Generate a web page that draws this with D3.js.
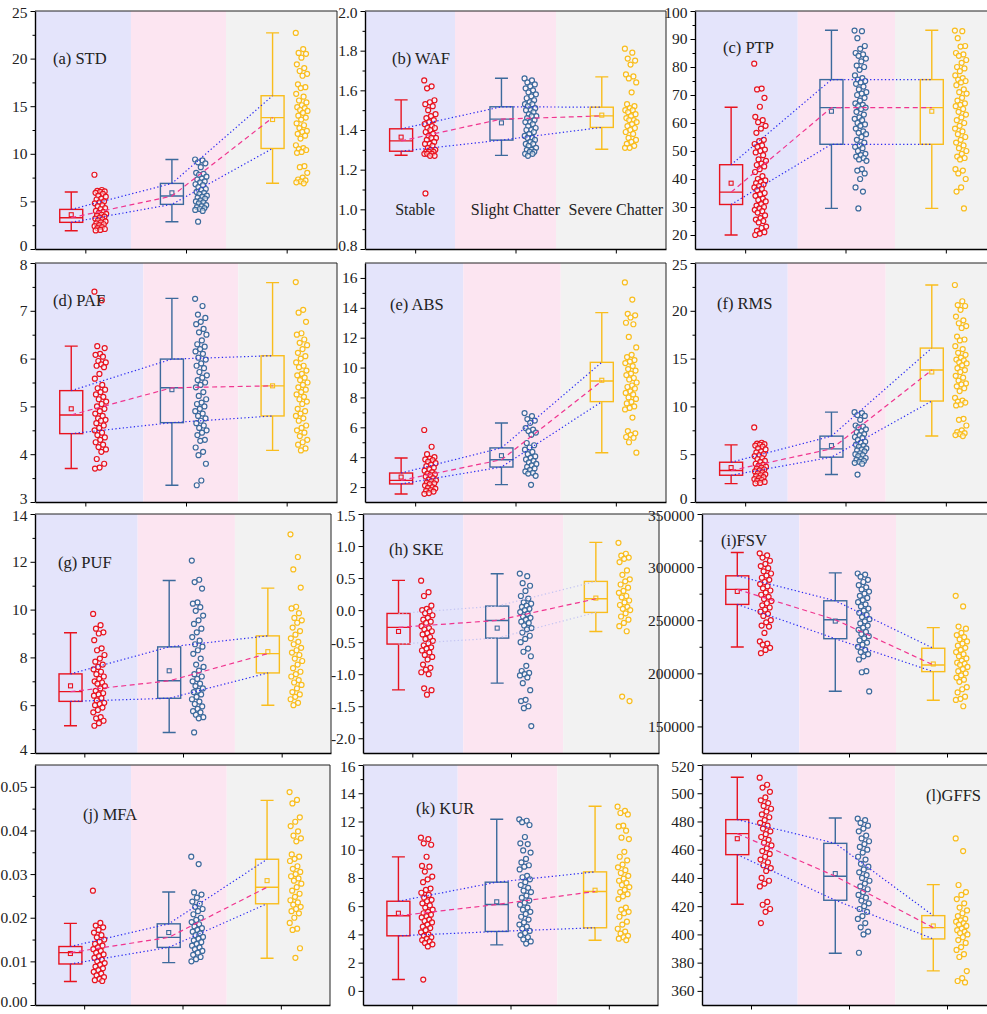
<!DOCTYPE html>
<html>
<head>
<meta charset="utf-8">
<script src="https://cdn.jsdelivr.net/npm/d3@7"></script>
<style>
body { margin: 0; background: #fff; }
svg { display: block; font-family: "Liberation Serif", "Times New Roman", serif; }
svg text { font-family: "Liberation Serif", "Times New Roman", serif !important; }
</style>
</head>
<body>
<svg id="chart" width="987" height="1014"></svg>
<script>
// ---- data ----
var categories = ["Stable", "Slight Chatter", "Severe Chatter"];
// box stats for each group: [lower whisker, q1, median, q3, upper whisker, mean]

// (a) STD
var stdBoxes = [[1.92, 2.8, 3.29, 4.16, 5.98, 3.6], [2.87, 4.69, 5.56, 6.89, 9.4, 5.9], [6.9, 10.56, 13.8, 16.1, 22.7, 13.6]];
var stdStable = [7.8, 6.2, 6.1, 6.05, 6.0, 5.9, 5.8, 5.6, 5.5, 5.3, 5.2, 5.0, 4.9, 4.8, 4.6, 4.5, 4.3, 4.2, 4.0, 3.9, 3.8, 3.7, 3.6, 3.5, 3.4, 3.3, 3.2, 3.1, 3.0, 2.9, 2.8, 2.7, 2.6, 2.5, 2.4, 2.3, 2.2, 2.1, 2.0, 1.95];
var stdSlight = [9.4, 9.3, 9.1, 9.0, 8.6, 8.0, 7.9, 7.8, 7.6, 7.4, 7.3, 7.1, 7.0, 6.8, 6.7, 6.5, 6.3, 6.2, 6.0, 5.9, 5.8, 5.6, 5.5, 5.4, 5.3, 5.1, 5.0, 4.9, 4.8, 4.6, 4.5, 4.4, 4.3, 4.2, 4.1, 4.0, 2.87];
var stdSevere = [22.7, 21.0, 20.6, 20.5, 20.1, 19.4, 19.0, 18.7, 18.4, 18.2, 17.3, 17.0, 16.9, 16.3, 16.0, 15.6, 15.4, 15.1, 14.9, 14.8, 14.6, 14.5, 14.3, 14.0, 13.8, 13.6, 13.2, 13.0, 12.7, 12.4, 12.3, 12.1, 11.9, 11.6, 10.9, 10.6, 10.5, 10.4, 10.2, 10.1, 8.7, 8.6, 8.0, 7.5, 7.3, 7.2, 7.1, 7.0, 6.9];
var stdTicks = [0, 5, 10, 15, 20, 25];

// (b) WAF
var wafBoxes = [[1.273, 1.293, 1.345, 1.406, 1.552, 1.364], [1.272, 1.349, 1.455, 1.517, 1.661, 1.436], [1.303, 1.413, 1.471, 1.515, 1.668, 1.475]];
var wafStable = [1.65, 1.62, 1.61, 1.55, 1.54, 1.53, 1.52, 1.50, 1.48, 1.47, 1.46, 1.45, 1.44, 1.43, 1.42, 1.41, 1.41, 1.40, 1.39, 1.38, 1.37, 1.36, 1.36, 1.35, 1.34, 1.33, 1.33, 1.32, 1.31, 1.30, 1.30, 1.29, 1.29, 1.29, 1.28, 1.28, 1.28, 1.27, 1.27, 1.08];
var wafSlight = [1.66, 1.65, 1.64, 1.63, 1.62, 1.61, 1.60, 1.59, 1.58, 1.57, 1.56, 1.55, 1.54, 1.53, 1.53, 1.52, 1.51, 1.50, 1.50, 1.49, 1.48, 1.47, 1.47, 1.46, 1.45, 1.44, 1.44, 1.43, 1.42, 1.41, 1.40, 1.40, 1.39, 1.38, 1.37, 1.36, 1.36, 1.35, 1.34, 1.33, 1.33, 1.32, 1.31, 1.30, 1.30, 1.29, 1.29, 1.28, 1.28, 1.27];
var wafSevere = [1.81, 1.79, 1.76, 1.75, 1.73, 1.68, 1.67, 1.66, 1.64, 1.59, 1.53, 1.52, 1.51, 1.50, 1.50, 1.49, 1.48, 1.47, 1.46, 1.45, 1.45, 1.44, 1.43, 1.42, 1.41, 1.40, 1.39, 1.38, 1.36, 1.35, 1.34, 1.33, 1.32, 1.31, 1.31];
var wafTicks = [0.8, 1.0, 1.2, 1.4, 1.6, 1.8, 2.0];

// (c) PTP
var ptpBoxes = [[20.0, 30.9, 35.3, 45.1, 65.6, 38.5], [29.5, 52.4, 65.5, 75.5, 93.1, 64.2], [29.5, 52.4, 65.5, 75.5, 93.1, 64.2]];
var ptpStable = [81.2, 72.3, 72.0, 69.0, 65.8, 62.2, 61.0, 60.3, 59.0, 58.0, 56.5, 54.0, 53.5, 52.5, 52.0, 51.5, 50.5, 50.0, 49.5, 48.5, 47.0, 46.5, 45.5, 45.0, 44.5, 43.5, 42.5, 41.0, 40.0, 39.5, 39.0, 38.5, 38.0, 37.5, 37.0, 36.5, 36.0, 35.0, 34.5, 34.0, 33.0, 32.5, 32.0, 31.0, 30.5, 30.0, 29.5, 29.0, 28.5, 28.0, 27.0, 26.0, 25.5, 25.0, 24.5, 23.0, 22.5, 21.5, 21.0, 20.5, 20.0];
var ptpSlight = [93.0, 92.8, 90.3, 87.5, 86.5, 85.0, 84.5, 84.0, 83.0, 82.0, 80.5, 80.0, 79.0, 77.0, 76.0, 75.5, 75.0, 74.5, 74.0, 73.0, 72.0, 71.0, 70.5, 70.0, 69.0, 68.0, 67.0, 66.5, 66.0, 65.5, 65.0, 64.0, 63.0, 62.0, 61.5, 61.0, 60.0, 59.5, 59.0, 58.0, 57.0, 56.5, 56.0, 55.0, 54.0, 53.0, 52.0, 51.5, 51.0, 50.0, 49.0, 48.5, 48.0, 47.5, 47.0, 46.5, 43.5, 43.0, 42.0, 40.0, 37.0, 35.5, 29.5];
var ptpSevere = [93.0, 92.8, 90.3, 87.5, 87.3, 85.0, 84.5, 84.0, 82.5, 81.5, 80.0, 79.5, 78.5, 77.0, 76.0, 75.5, 75.0, 74.5, 73.5, 72.0, 71.0, 70.5, 69.0, 68.0, 67.0, 66.5, 66.0, 65.0, 64.0, 63.0, 62.0, 61.0, 60.0, 59.0, 58.0, 57.0, 56.0, 55.0, 54.0, 53.0, 52.0, 51.0, 50.0, 49.0, 48.0, 47.5, 47.0, 43.5, 43.0, 42.0, 40.0, 37.0, 35.5, 29.5];
var ptpTicks = [20, 30, 40, 50, 60, 70, 80, 90, 100];

// (d) PAF
var pafBoxes = [[3.70, 4.43, 4.82, 5.33, 6.26, 4.95], [3.35, 4.66, 5.39, 5.99, 7.26, 5.35], [4.08, 4.80, 5.43, 6.06, 7.59, 5.43]];
var pafStable = [7.40, 7.22, 6.26, 6.22, 6.10, 6.08, 6.04, 5.95, 5.92, 5.88, 5.85, 5.82, 5.68, 5.58, 5.45, 5.38, 5.35, 5.30, 5.25, 5.20, 5.15, 5.10, 5.05, 5.00, 4.95, 4.90, 4.85, 4.80, 4.75, 4.72, 4.70, 4.65, 4.60, 4.55, 4.50, 4.45, 4.40, 4.35, 4.30, 4.25, 4.20, 4.15, 4.10, 4.05, 3.90, 3.80, 3.72, 3.70];
var pafSlight = [7.25, 7.10, 6.92, 6.85, 6.77, 6.72, 6.62, 6.55, 6.50, 6.38, 6.30, 6.25, 6.20, 6.15, 6.10, 6.02, 5.98, 5.90, 5.85, 5.80, 5.72, 5.65, 5.60, 5.55, 5.50, 5.45, 5.40, 5.30, 5.22, 5.15, 5.08, 5.05, 5.00, 4.95, 4.90, 4.85, 4.80, 4.75, 4.70, 4.65, 4.60, 4.55, 4.50, 4.45, 4.40, 4.30, 4.28, 4.14, 4.05, 3.98, 3.80, 3.45, 3.35];
var pafSevere = [7.60, 7.02, 6.96, 6.77, 6.53, 6.50, 6.40, 6.33, 6.28, 6.20, 6.12, 6.05, 6.00, 5.92, 5.85, 5.82, 5.75, 5.68, 5.65, 5.60, 5.55, 5.50, 5.45, 5.40, 5.35, 5.30, 5.25, 5.20, 5.15, 5.10, 5.05, 4.95, 4.90, 4.85, 4.80, 4.75, 4.70, 4.60, 4.55, 4.50, 4.45, 4.38, 4.30, 4.25, 4.20, 4.12, 4.08];
var pafTicks = [3, 4, 5, 6, 7, 8];

// (e) ABS
var absBoxes = [[1.54, 2.21, 2.45, 2.94, 3.95, 2.67], [2.16, 3.34, 3.83, 4.62, 6.29, 4.10], [4.30, 7.72, 9.10, 10.35, 13.68, 9.15]];
var absStable = [5.82, 4.70, 4.2, 4.0, 3.9, 3.85, 3.8, 3.7, 3.6, 3.5, 3.4, 3.3, 3.2, 3.1, 3.0, 2.9, 2.85, 2.8, 2.7, 2.6, 2.5, 2.45, 2.4, 2.3, 2.25, 2.2, 2.1, 2.0, 1.95, 1.9, 1.8, 1.75, 1.7, 1.6, 1.55];
var absSlight = [6.95, 6.75, 6.55, 6.45, 6.30, 5.95, 5.85, 5.75, 5.65, 5.50, 4.95, 4.80, 4.65, 4.50, 4.35, 4.20, 4.05, 3.95, 3.85, 3.75, 3.65, 3.55, 3.45, 3.35, 3.25, 3.15, 3.05, 2.95, 2.90, 2.75, 2.15];
var absSevere = [15.7, 14.55, 13.6, 13.5, 13.35, 13.0, 12.9, 12.05, 11.35, 10.85, 10.7, 10.5, 10.4, 10.3, 10.1, 9.9, 9.8, 9.6, 9.5, 9.3, 9.2, 9.0, 8.8, 8.7, 8.6, 8.4, 8.3, 8.2, 8.0, 7.9, 7.7, 7.6, 7.4, 7.3, 7.2, 6.65, 5.75, 5.6, 5.5, 5.35, 5.3, 5.0, 4.3];
var absTicks = [2, 4, 6, 8, 10, 12, 14, 16];

// (f) RMS - same values as STD in the source figure
var rmsBoxes = stdBoxes;
var rmsStable = stdStable;
var rmsSlight = stdSlight;
var rmsSevere = stdSevere;
var rmsTicks = [0, 5, 10, 15, 20, 25];

// (g) PUF
var pufBoxes = [[5.14, 6.16, 6.57, 7.31, 9.03, 6.81], [4.86, 6.29, 7.02, 8.44, 11.22, 7.44], [6.00, 7.35, 8.16, 8.90, 10.90, 8.24]];
var pufStable = [9.82, 9.35, 9.2, 9.05, 9.0, 8.72, 8.38, 8.3, 8.1, 7.95, 7.82, 7.7, 7.6, 7.5, 7.4, 7.3, 7.2, 7.1, 7.0, 6.95, 6.9, 6.8, 6.7, 6.6, 6.5, 6.45, 6.4, 6.3, 6.2, 6.1, 6.05, 6.0, 5.9, 5.8, 5.7, 5.5, 5.45, 5.35, 5.25, 5.14];
var pufSlight = [12.05, 11.25, 11.15, 10.88, 10.3, 10.25, 10.1, 9.95, 9.75, 9.55, 9.4, 9.2, 9.05, 8.85, 8.7, 8.55, 8.45, 8.3, 8.15, 7.95, 7.7, 7.6, 7.45, 7.3, 7.2, 7.1, 7.0, 6.9, 6.8, 6.7, 6.6, 6.55, 6.45, 6.35, 6.25, 6.15, 6.05, 5.95, 5.85, 5.75, 5.7, 5.6, 5.5, 5.45, 4.86];
var pufSevere = [13.15, 12.2, 11.68, 10.92, 10.12, 10.05, 9.85, 9.65, 9.55, 9.45, 9.25, 9.1, 8.95, 8.8, 8.65, 8.55, 8.4, 8.3, 8.2, 8.1, 7.95, 7.85, 7.7, 7.55, 7.4, 7.3, 7.2, 7.05, 6.95, 6.85, 6.7, 6.55, 6.45, 6.35, 6.25, 6.1, 6.0];
var pufTicks = [4, 6, 8, 10, 12, 14];

// (h) SKE
var skeBoxes = [[-1.245, -0.53, -0.27, -0.052, 0.464, -0.333], [-1.14, -0.437, -0.161, 0.063, 0.568, -0.281], [-0.333, -0.036, 0.177, 0.448, 1.057, 0.188]];
var skeStable = [0.46, 0.28, 0.22, 0.07, 0.02, 0.0, -0.02, -0.05, -0.08, -0.12, -0.15, -0.18, -0.2, -0.25, -0.28, -0.3, -0.33, -0.36, -0.38, -0.42, -0.45, -0.48, -0.52, -0.55, -0.58, -0.6, -0.63, -0.66, -0.7, -0.73, -0.77, -0.85, -0.9, -0.93, -0.97, -1.0, -1.22, -1.25, -1.32];
var skeSlight = [0.57, 0.53, 0.42, 0.38, 0.3, 0.22, 0.18, 0.12, 0.1, 0.07, 0.05, 0.02, 0.0, -0.03, -0.06, -0.1, -0.12, -0.15, -0.18, -0.2, -0.24, -0.28, -0.3, -0.35, -0.4, -0.45, -0.5, -0.6, -0.65, -0.72, -0.87, -0.95, -0.98, -1.0, -1.02, -1.05, -1.14, -1.25, -1.4, -1.42, -1.5, -1.53, -1.81];
var skeSevere = [1.05, 0.88, 0.85, 0.82, 0.8, 0.75, 0.62, 0.55, 0.48, 0.45, 0.4, 0.35, 0.3, 0.27, 0.22, 0.2, 0.15, 0.12, 0.08, 0.05, 0.02, 0.0, -0.05, -0.1, -0.15, -0.2, -0.25, -0.33, -1.35, -1.42];
var skeTicks = [-2.0, -1.5, -1.0, -0.5, 0.0, 0.5, 1.0, 1.5];

// (i) FSV
var fsvBoxes = [[224800, 264900, 279000, 291800, 313700, 277100], [183200, 232600, 250500, 268300, 294600, 249200], [174700, 201600, 207900, 223600, 243000, 208800]];
var fsvStable = [313000, 311000, 309000, 306000, 303000, 301000, 299000, 296000, 294000, 292000, 290000, 288000, 286000, 284000, 282000, 280000, 278000, 276000, 274000, 272000, 270000, 268000, 266000, 264000, 262000, 260000, 258000, 256000, 254000, 250000, 248000, 245000, 244000, 238000, 230000, 228000, 227000, 224000, 222000, 219000];
var fsvSlight = [294000, 293000, 291000, 288000, 286000, 283000, 281000, 279000, 277000, 275000, 273000, 271000, 269000, 267000, 265000, 263000, 261000, 259000, 257000, 255000, 253000, 251000, 249000, 247000, 245000, 243000, 241000, 239000, 237000, 235000, 233000, 231000, 229000, 227000, 225000, 222000, 220000, 218000, 216000, 213000, 202000, 201000, 183000];
var fsvSevere = [273000, 263000, 244000, 242000, 238000, 236000, 234000, 232000, 230000, 228000, 226000, 224000, 222000, 220000, 218000, 216000, 214000, 212000, 210000, 209000, 208000, 206000, 204000, 202000, 200000, 198000, 196000, 194000, 192000, 187000, 185000, 182000, 178000, 176000, 175000, 169000];
var fsvTicks = [150000, 200000, 250000, 300000, 350000];

// (j) MFA
var mfaBoxes = [[0.0054, 0.0094, 0.0120, 0.0134, 0.0187, 0.0118], [0.0097, 0.0132, 0.0155, 0.0186, 0.0259, 0.0166], [0.0107, 0.0232, 0.0270, 0.0334, 0.0469, 0.0285]];
var mfaStable = [0.0262, 0.0188, 0.0182, 0.0178, 0.0172, 0.0166, 0.016, 0.0155, 0.0150, 0.0145, 0.0140, 0.0136, 0.0132, 0.0128, 0.0124, 0.0120, 0.0116, 0.0112, 0.0108, 0.0104, 0.0100, 0.0096, 0.0092, 0.0088, 0.0084, 0.0080, 0.0076, 0.0072, 0.0068, 0.0064, 0.0060, 0.0057, 0.0055];
var mfaSlight = [0.0340, 0.0323, 0.0258, 0.0253, 0.0246, 0.0237, 0.0232, 0.0225, 0.0220, 0.0215, 0.0208, 0.0200, 0.0195, 0.0190, 0.0185, 0.0180, 0.0176, 0.0172, 0.0168, 0.0164, 0.0160, 0.0156, 0.0152, 0.0148, 0.0144, 0.0140, 0.0136, 0.0132, 0.0128, 0.0124, 0.0120, 0.0115, 0.0110, 0.0105, 0.0100];
var mfaSevere = [0.0488, 0.0470, 0.0462, 0.0430, 0.0420, 0.0410, 0.0398, 0.0388, 0.0382, 0.0375, 0.0345, 0.0340, 0.0335, 0.0330, 0.0318, 0.0312, 0.0305, 0.0300, 0.0295, 0.0290, 0.0285, 0.0278, 0.0270, 0.0262, 0.0255, 0.0248, 0.0240, 0.0235, 0.0230, 0.0225, 0.0220, 0.0215, 0.0210, 0.0200, 0.0188, 0.0175, 0.0172, 0.0130, 0.0108];
var mfaTicks = [0.00, 0.01, 0.02, 0.03, 0.04, 0.05];

// (k) KUR
var kurBoxes = [[0.81, 3.90, 5.32, 6.35, 9.49, 5.50], [3.26, 4.21, 6.12, 7.70, 12.16, 6.31], [3.59, 4.47, 7.04, 8.43, 13.08, 7.13]];
var kurStable = [10.85, 10.75, 10.45, 10.35, 9.5, 8.85, 8.8, 8.45, 8.1, 7.9, 7.7, 7.25, 7.15, 6.95, 6.8, 6.6, 6.45, 6.35, 6.2, 6.05, 5.9, 5.75, 5.6, 5.5, 5.4, 5.3, 5.2, 5.05, 4.95, 4.85, 4.7, 4.55, 4.45, 4.3, 4.15, 4.0, 3.9, 3.8, 3.7, 3.6, 3.5, 3.4, 3.3, 3.15, 0.8];
var kurSlight = [12.15, 12.05, 11.95, 11.75, 10.9, 10.45, 10.4, 9.95, 9.8, 9.35, 9.1, 8.9, 8.8, 8.6, 8.15, 8.05, 7.9, 7.7, 7.5, 7.3, 7.1, 7.0, 6.75, 6.6, 6.4, 6.25, 6.1, 5.9, 5.75, 5.6, 5.45, 5.25, 5.05, 4.85, 4.7, 4.55, 4.4, 4.25, 4.1, 3.95, 3.8, 3.65, 3.5, 3.35];
var kurSevere = [13.05, 12.75, 12.6, 12.5, 11.7, 11.65, 11.35, 10.85, 10.75, 9.85, 9.5, 9.25, 8.95, 8.75, 8.55, 8.35, 8.15, 7.95, 7.8, 7.65, 7.5, 7.35, 7.15, 7.0, 6.85, 6.7, 6.5, 5.9, 5.75, 5.6, 5.5, 5.25, 4.9, 4.7, 4.4, 4.2, 4.05, 3.9, 3.8, 3.7, 3.6];
var kurTicks = [0, 2, 4, 6, 8, 10, 12, 14, 16];

// (l) GFFS
var gffsBoxes = [[421.4, 456.5, 471.4, 481.3, 511.3, 467.8], [386.7, 424.2, 441.2, 464.5, 482.5, 443.1], [374.2, 396.8, 404.8, 413.3, 435.3, 406.0]];
var gffsStable = [511, 506, 504, 501, 497, 495, 493, 491, 489, 487, 485, 483, 481, 479, 477, 475, 473, 471, 469, 467, 465, 463, 461, 459, 457, 455, 453, 451, 449, 447, 445, 440, 438, 436, 434, 423, 421, 418, 416, 408];
var gffsSlight = [482, 481, 479, 477, 475, 473, 470, 468, 466, 464, 462, 460, 458, 455, 453, 450, 448, 446, 444, 442, 440, 438, 436, 434, 432, 430, 428, 426, 424, 422, 420, 418, 416, 413, 411, 408, 405, 402, 400, 387];
var gffsSevere = [468, 459, 435, 430, 428, 425, 422, 419, 417, 415, 413, 411, 410, 409, 408, 407, 406, 404, 403, 402, 401, 400, 398, 396, 394, 391, 389, 386, 384, 374, 369, 367, 366];
var gffsTicks = [360, 380, 400, 420, 440, 460, 480, 500, 520];

// ---- panel layout ----
// frame: [left, top, right, bottom] in px; split: band edges on the category axis; label: [dx, dy]
var panels = [
  {name: "(a) STD", boxes: stdBoxes, pts: [stdStable, stdSlight, stdSevere], ticks: stdTicks, dom: [0, 25], fmt: "d",
   frame: [35, 11, 337, 249], split: [1.453, 2.397], label: [18, 47]},
  {name: "(b) WAF", boxes: wafBoxes, pts: [wafStable, wafSlight, wafSevere], ticks: wafTicks, dom: [0.8, 2.0], fmt: ".1f",
   frame: [365, 11, 666, 249], split: [1.397, 2.404], label: [27, 47], cats: true},
  {name: "(c) PTP", boxes: ptpBoxes, pts: [ptpStable, ptpSlight, ptpSevere], ticks: ptpTicks, dom: [15, 100], fmt: "d",
   frame: [695, 11, 996, 249], split: [1.524, 2.494], label: [28, 36]},
  {name: "(d) PAF", boxes: pafBoxes, pts: [pafStable, pafSlight, pafSevere], ticks: pafTicks, dom: [3, 8], fmt: "d",
   frame: [35, 263, 337, 502], split: [1.576, 2.519], label: [18, 37]},
  {name: "(e) ABS", boxes: absBoxes, pts: [absStable, absSlight, absSevere], ticks: absTicks, dom: [1, 17], fmt: "d",
   frame: [365, 263, 666, 502], split: [1.480, 2.451], label: [25, 41]},
  {name: "(f) RMS", boxes: rmsBoxes, pts: [rmsStable, rmsSlight, rmsSevere], ticks: rmsTicks, dom: [0, 25], fmt: "d",
   frame: [695, 263, 996, 502], split: [1.424, 2.401], label: [22, 40]},
  {name: "(g) PUF", boxes: pufBoxes, pts: [pufStable, pufSlight, pufSevere], ticks: pufTicks, dom: [4, 14], fmt: "d",
   frame: [35, 514, 331, 753], split: [1.540, 2.526], label: [23, 48]},
  {name: "(h) SKE", boxes: skeBoxes, pts: [skeStable, skeSlight, skeSevere], ticks: skeTicks, dom: [-2.23, 1.5], fmt: ".1f",
   frame: [363, 514, 659, 753], split: [1.516, 2.529], label: [26, 35], faint: true},
  {name: "(i)FSV", boxes: fsvBoxes, pts: [fsvStable, fsvSlight, fsvSevere], ticks: fsvTicks, dom: [125000, 350000], fmt: "d",
   frame: [702, 514, 996, 753], split: [1.493, 2.480], label: [19, 26]},
  {name: "(j) MFA", boxes: mfaBoxes, pts: [mfaStable, mfaSlight, mfaSevere], ticks: mfaTicks, dom: [0, 0.055], fmt: ".2f",
   frame: [35, 765, 330, 1005], split: [1.477, 2.450], label: [48, 49]},
  {name: "(k) KUR", boxes: kurBoxes, pts: [kurStable, kurSlight, kurSevere], ticks: kurTicks, dom: [-1, 16], fmt: "d",
   frame: [363, 765, 658, 1005], split: [1.463, 2.477], label: [53, 43]},
  {name: "(l)GFFS", boxes: gffsBoxes, pts: [gffsStable, gffsSlight, gffsSevere], ticks: gffsTicks, dom: [350, 520], fmt: "d",
   frame: [702, 765, 996, 1005], split: [1.476, 2.472], label: [224, 30]}
];

var boxColors = ["#e8131f", "#3c6a9c", "#f9bd1d"];
var bandColors = ["#e4e4fb", "#fce5f1", "#f2f2f2"];
var serif = "'Liberation Serif', 'Times New Roman', serif";

var svg = d3.select("#chart");

function drawPanel(p) {
  var f = p.frame;
  var x = d3.scaleLinear().domain([0.5, 3.5]).range([f[0], f[2]]);
  var y = d3.scaleLinear().domain(p.dom).range([f[3], f[1]]);
  var g = svg.append("g").attr("class", "panel");

  // coloured bands behind each group
  var edges = [0.5, p.split[0], p.split[1], 3.5];
  g.selectAll(".band").data(bandColors).join("rect")
    .attr("class", "band")
    .attr("x", function(d, i) { return x(edges[i]); })
    .attr("width", function(d, i) { return x(edges[i + 1]) - x(edges[i]); })
    .attr("y", f[1]).attr("height", f[3] - f[1])
    .attr("fill", function(d) { return d; });

  // frame top / right
  g.append("path")
    .attr("d", "M" + f[0] + "," + f[1] + "H" + f[2] + "V" + f[3])
    .attr("fill", "none").attr("stroke", "#222").attr("stroke-width", 1);

  var bx = function(i) { return x(i + 1 - 0.14); };
  var hw = 11.5, cap = 6.5;

  // boxes
  var box = g.selectAll(".box").data(p.boxes).join("g").attr("class", "box")
    .attr("stroke", function(d, i) { return boxColors[i]; })
    .attr("stroke-width", 1.4).attr("fill", "none");
  box.append("rect")
    .attr("x", function(d, i) { return bx(i) - hw; })
    .attr("width", hw * 2)
    .attr("y", function(d) { return y(d[3]); })
    .attr("height", function(d) { return y(d[1]) - y(d[3]); });
  box.append("path").attr("d", function(d, i) {
    var c = bx(i);
    return "M" + (c - hw) + "," + y(d[2]) + "H" + (c + hw) +
      "M" + c + "," + y(d[3]) + "V" + y(d[4]) + "M" + (c - cap) + "," + y(d[4]) + "H" + (c + cap) +
      "M" + c + "," + y(d[1]) + "V" + y(d[0]) + "M" + (c - cap) + "," + y(d[0]) + "H" + (c + cap);
  });
  box.append("rect")
    .attr("x", function(d, i) { return bx(i) - 2; })
    .attr("y", function(d) { return y(d[5]) - 2; })
    .attr("width", 4).attr("height", 4)
    .attr("stroke-width", 1.1);

  // jittered points
  p.pts.forEach(function(vals, gi) {
    g.append("g").selectAll("circle").data(vals).join("circle")
      .attr("cx", function(d, i) { return x(gi + 1 + 0.15) + (((i * 0.618034) % 1) - 0.5) * 12; })
      .attr("cy", function(d) { return y(d); })
      .attr("r", 2.5)
      .attr("fill", "#fff").attr("fill-opacity", 0.55)
      .attr("stroke", boxColors[gi]).attr("stroke-width", 1.2);
  });

  // connecting lines (q3, q1 dotted blue; median dashed pink)
  var line = d3.line().x(function(d) { return bx(d.i); }).y(function(d) { return y(d.v); });
  [3, 1].forEach(function(k) {
    g.append("path")
      .attr("d", line(p.boxes.map(function(b, i) { return {i: i, v: b[k]}; })))
      .attr("fill", "none")
      .attr("stroke", p.faint ? "#c4c4f2" : "#2a2af2")
      .attr("stroke-width", 1.2).attr("stroke-dasharray", "1.3,2.4");
  });
  g.append("path")
    .attr("d", line(p.boxes.map(function(b, i) { return {i: i, v: b[2]}; })))
    .attr("fill", "none").attr("stroke", "#f0358f")
    .attr("stroke-width", 1.2).attr("stroke-dasharray", "5,3.5");

  // axes
  var fmt = d3.format(p.fmt);
  var step = p.ticks[1] - p.ticks[0];
  var minor = [];
  p.ticks.forEach(function(t) { minor.push(t + step / 2); });
  minor.unshift(p.ticks[0] - step / 2);
  minor = minor.filter(function(t) { return t > p.dom[0] && t < p.dom[1] && p.ticks.indexOf(t) < 0; });

  g.append("g").attr("transform", "translate(" + f[0] + ",0)")
    .call(d3.axisLeft(y).tickValues(minor).tickSize(2.5).tickSizeOuter(0).tickFormat(""))
    .call(function(a) { a.select(".domain").remove(); });
  var ya = g.append("g").attr("transform", "translate(" + f[0] + ",0)")
    .call(d3.axisLeft(y).tickValues(p.ticks).tickSize(4.5).tickPadding(3).tickSizeOuter(0)
      .tickFormat(function(d) { return fmt(d).replace("\u2212", "-"); }));
  ya.attr("font-family", null);
  ya.selectAll("text").style("font-family", serif).style("font-size", "15.5px").attr("fill", "#222")
    .attr("dy", function(d) {
      // nudge labels sitting on the panel edges so neighbouring rows do not collide
      if (d === p.dom[0]) return "0.1em";
      if (d === p.dom[1]) return "0.45em";
      return "0.32em";
    });
  ya.select(".domain").attr("stroke-width", 1.4);

  var xa = g.append("g").attr("transform", "translate(0," + f[3] + ")")
    .call(d3.axisBottom(x).tickValues([1, 2, 3]).tickSize(4.5).tickSizeOuter(0).tickFormat(""));
  xa.select(".domain").attr("stroke-width", 1.4);

  // panel title
  g.append("text")
    .attr("x", f[0] + p.label[0]).attr("y", f[1] + p.label[1])
    .attr("dy", "0.35em").style("font-family", serif).style("font-size", "16.5px").attr("fill", "#222")
    .text(p.name);

  if (p.cats) {
    g.selectAll(".cat").data(categories).join("text")
      .attr("class", "cat")
      .attr("x", function(d, i) { return x(i + 1); })
      .attr("y", y(1.0))
      .attr("dy", "0.35em").attr("text-anchor", "middle")
      .style("font-family", serif).style("font-size", "16px").attr("fill", "#222")
      .text(function(d) { return d; });
  }
}

panels.forEach(drawPanel);
</script>
</body>
</html>
